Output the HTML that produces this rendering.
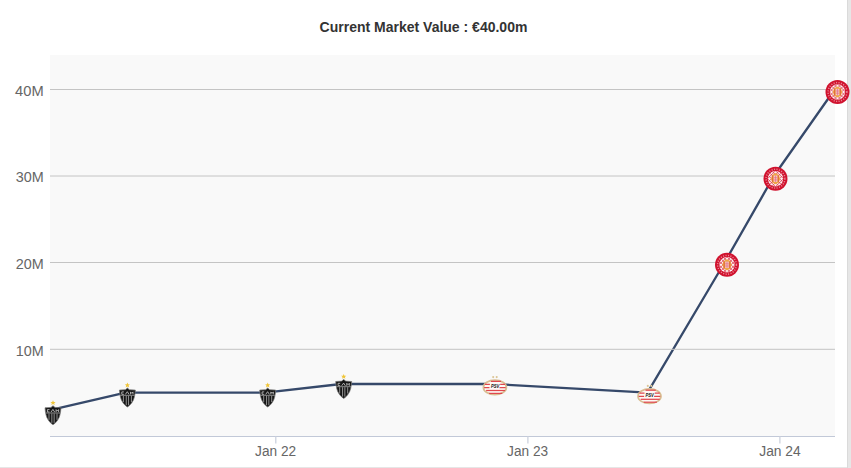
<!DOCTYPE html>
<html><head><meta charset="utf-8">
<style>
html,body{margin:0;padding:0;width:851px;height:468px;overflow:hidden;background:#e6e6e6;}
svg{display:block;}
text{font-family:"Liberation Sans",sans-serif;}
</style></head>
<body>
<svg width="851" height="468" viewBox="0 0 851 468">
<defs>
  <clipPath id="gclip"><circle cx="0" cy="0" r="7.7"/></clipPath>
  <g id="cam">
    <polygon points="0,-10 0.75,-8.3 2.6,-8.2 1.2,-7.1 1.7,-5.2 0,-6.2 -1.7,-5.2 -1.2,-7.1 -2.6,-8.2 -0.75,-8.3" fill="#f0c63a"/>
    <path d="M0,-4.6 L-2,-2.9 L-8,-2.5 C-7.5,3 -6.9,6.8 -4.6,9.9 C-3.1,12 -1.6,13.4 0,14.4 C1.6,13.4 3.1,12 4.6,9.9 C6.9,6.8 7.5,3 8,-2.5 L2,-2.9 Z" fill="#161616" stroke="#7a7a7a" stroke-width="0.7" stroke-linejoin="round"/>
    <path d="M-3.5,-0.7 H-5.6 V1.7 H-3.5 M-2,1.8 L-0.1,-0.9 L1.7,1.8 M3.1,1.8 V-0.7 L4.35,0.7 L5.6,-0.7 V1.8" fill="none" stroke="#cfcfcf" stroke-width="0.8"/>
    <path d="M-7,2.7 H7" stroke="#bdbdbd" stroke-width="0.7"/>
    <path d="M-4,3.2 V9.5 M-1.15,3.2 V12.6 M1.15,3.2 V12.6 M4,3.2 V9.5" stroke="#b0b0b0" stroke-width="0.8"/>
  </g>
  <g id="psv">
    <ellipse cx="0" cy="0" rx="11.5" ry="7.3" fill="#fdf9f5" stroke="#d9bd92" stroke-width="1.7"/>
    <g stroke="#e0484e" stroke-width="1.25">
      <path d="M-4,-6 H6.2"/>
      <path d="M-10,-3 H-5 M5.3,-3 H10.2"/>
      <path d="M-10.8,0.1 H-5.4 M4.6,0.1 H10.8"/>
      <path d="M-8.8,3.1 H10.2"/>
      <path d="M-5.8,6 H7.4"/>
    </g>
    <text x="0.2" y="0.8" font-size="5.2" font-weight="bold" font-style="italic" text-anchor="middle" textLength="8.4" lengthAdjust="spacingAndGlyphs" fill="#161616">PSV</text>
    <circle cx="-1.7" cy="-10.3" r="1.05" fill="#dcc596"/>
    <circle cx="1.8" cy="-10.3" r="1.05" fill="#dcc596"/>
  </g>
  <g id="gir">
    <circle cx="0" cy="0" r="12" fill="#d0122e"/>
    <circle cx="0" cy="0" r="9.4" fill="none" stroke="#e98593" stroke-width="1.5" stroke-dasharray="1.1 1.4"/>
    <circle cx="0" cy="0" r="7.7" fill="#fcf1f3"/>
    <g clip-path="url(#gclip)" stroke="#dc3a4c" stroke-width="0.8">
      <path d="M-10,-6 L6,10 M-10,-2 L2,10 M-10,2 L-2,10 M-6,-10 L10,6 M-2,-10 L10,2 M2,-10 L10,-2 M-10,-10 L10,10"/>
      <path d="M10,-6 L-6,10 M10,-2 L-2,10 M10,2 L2,10 M6,-10 L-10,6 M2,-10 L-10,2 M-2,-10 L-10,-2 M10,-10 L-10,10"/>
    </g>
    <polygon points="0,-5.6 3.4,-3.8 4.7,0 3.4,3.8 0,5.6 -3.4,3.8 -4.7,0 -3.4,-3.8" fill="#efa545"/>
    <path d="M-2.8,-3.4 V3.4 M2.8,-3.4 V3.4" stroke="#dc5a3a" stroke-width="0.9"/>
    <rect x="-1.8" y="-3.2" width="3.6" height="6.4" fill="#f3c1c8"/>
    <path d="M-1.8,-1 H1.8 M-1.8,1.2 H1.8 M0,-3.2 V3.2" stroke="#e2677a" stroke-width="0.6"/>
  </g>
</defs>
<rect x="0" y="0" width="847" height="467" fill="#ffffff"/>
<rect x="847" y="0" width="1" height="468" fill="#dadada"/>
<text x="423.5" y="32" font-size="14" font-weight="bold" text-anchor="middle" fill="#333333">Current Market Value : €40.00m</text>
<rect x="50" y="55" width="785" height="381" fill="#f9f9f9"/>
<path d="M50,410.2 L125.5,392.6 L265.3,392.6 L341.3,384 L494,384 L647.5,392.6 L724.6,262.5 L774,175.75 L835,89" fill="none" stroke="#36496a" stroke-width="2.3" stroke-linejoin="round" stroke-linecap="round"/>
<g stroke="#c4c4c4" stroke-width="1">
  <path d="M50,89.5 H835"/>
  <path d="M50,176 H835"/>
  <path d="M50,262.5 H835"/>
  <path d="M50,349.3 H835"/>
</g>
<path d="M50,436.5 H835" stroke="#c2c9d8" stroke-width="1.2"/>
<g stroke="#c9cfdc" stroke-width="1.2">
  <path d="M275.8,436 V443.4"/>
  <path d="M527.9,436 V443.4"/>
  <path d="M779.9,436 V443.4"/>
</g>
<g font-size="15.3" fill="#666666" text-anchor="end">
  <text x="43.7" y="96.3" textLength="28.6" lengthAdjust="spacingAndGlyphs">40M</text>
  <text x="43.7" y="182.4" textLength="28" lengthAdjust="spacingAndGlyphs">30M</text>
  <text x="43.7" y="269.2" textLength="28" lengthAdjust="spacingAndGlyphs">20M</text>
  <text x="43.7" y="356.3" textLength="28" lengthAdjust="spacingAndGlyphs">10M</text>
</g>
<g font-size="15.3" fill="#666666" text-anchor="middle">
  <text x="275.6" y="456.2" textLength="41" lengthAdjust="spacingAndGlyphs">Jan 22</text>
  <text x="527.6" y="456.2" textLength="41" lengthAdjust="spacingAndGlyphs">Jan 23</text>
  <text x="780" y="456.2" textLength="41.5" lengthAdjust="spacingAndGlyphs">Jan 24</text>
</g>

<use href="#cam" x="53" y="410.3"/>
<use href="#cam" x="127.4" y="392.6"/>
<use href="#cam" x="267.7" y="392.6"/>
<use href="#cam" x="343.7" y="384"/>
<use href="#psv" x="494.9" y="387.4"/>
<use href="#psv" x="649.5" y="396.2"/>
<use href="#gir" x="727" y="264.8"/>
<use href="#gir" x="775.5" y="178.7"/>
<use href="#gir" x="837.5" y="92"/>
</svg>
</body></html>
